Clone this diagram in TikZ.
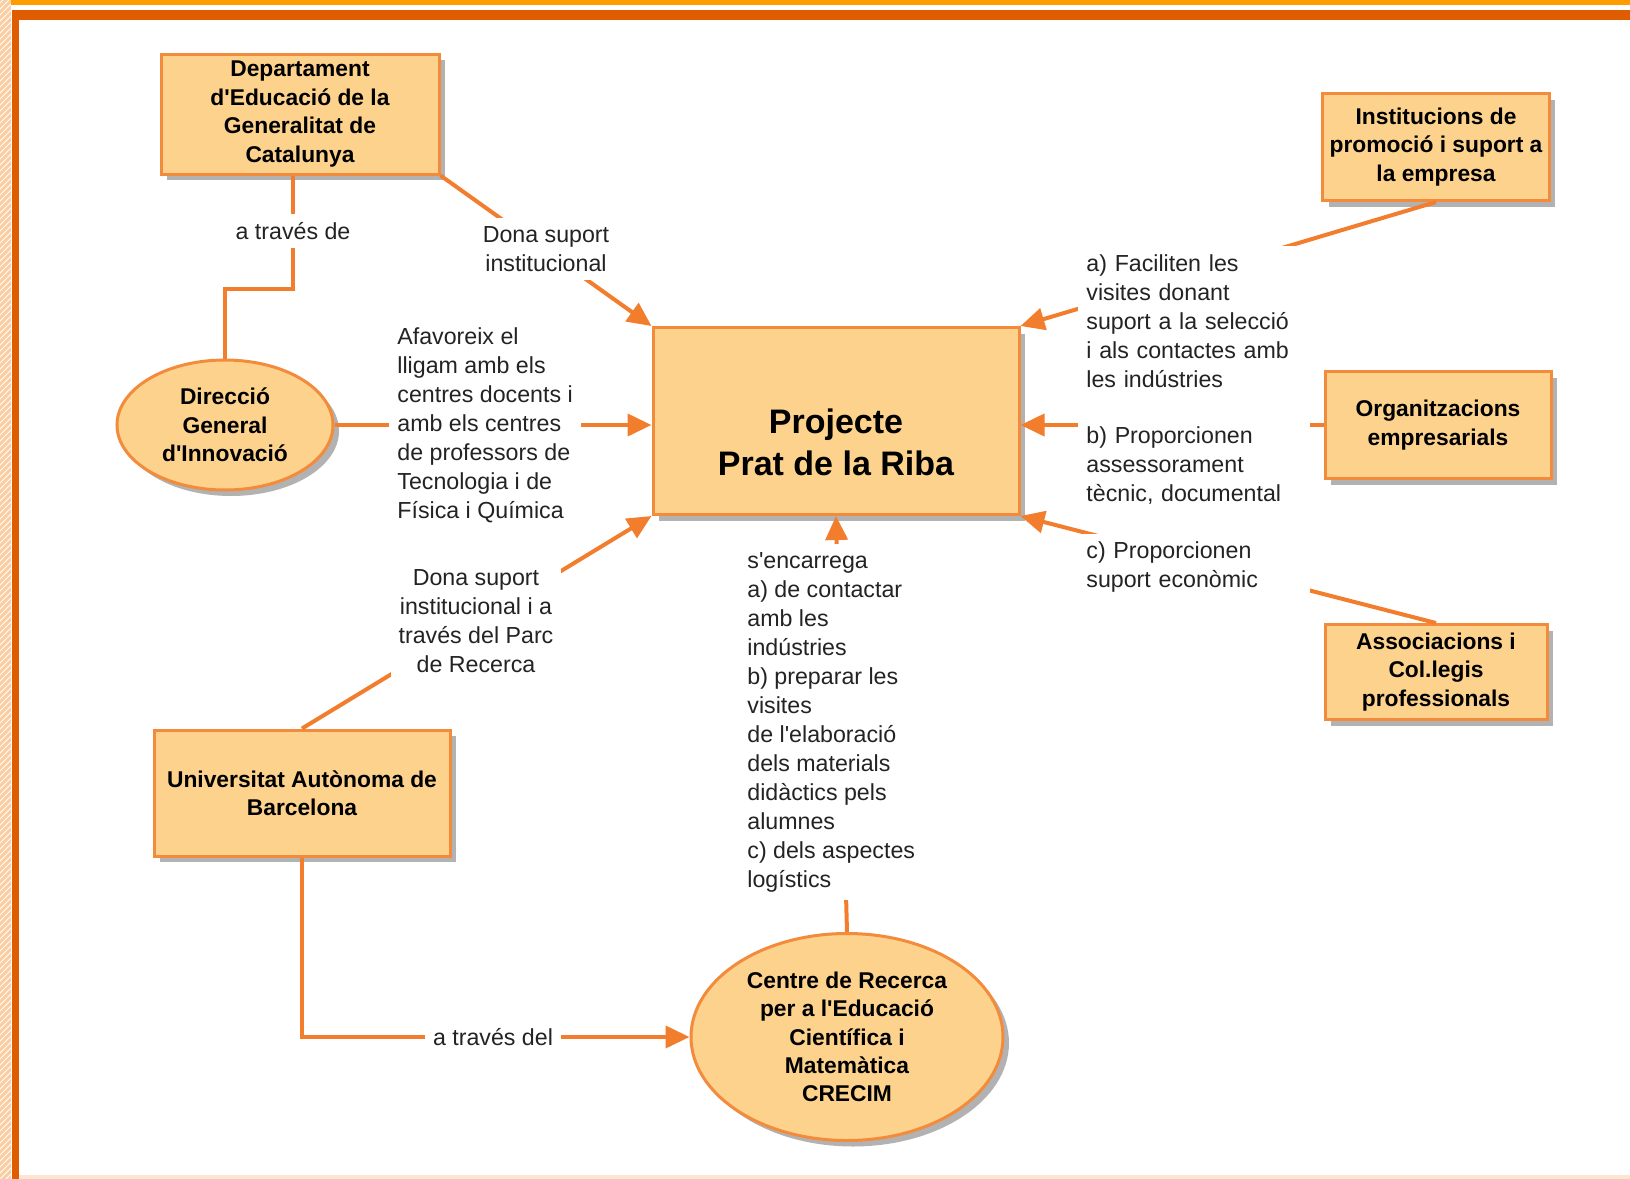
\documentclass[tikz,border=0pt]{standalone}
\usepackage{fontspec}
\setmainfont{Liberation Sans}
\usetikzlibrary{arrows.meta,shapes.geometric,shadows,patterns}
\definecolor{boxfill}{RGB}{252,210,140}
\definecolor{boxline}{RGB}{242,140,60}
\definecolor{linkcol}{RGB}{242,125,45}
\definecolor{framedark}{RGB}{224,92,0}
\definecolor{framelight}{RGB}{255,156,0}
\definecolor{strip}{RGB}{251,205,160}
\definecolor{txtgrey}{RGB}{35,35,35}
\newcommand{\ap}{\textquotesingle}
\begin{document}
\begin{tikzpicture}[x=0.5pt,y=-0.5pt,
	concept/.style={draw=boxline,line width=1.5pt,fill=boxfill,align=center,
		font=\fontsize{11.4}{14.2}\selectfont\bfseries,
		drop shadow={shadow xshift=3pt,shadow yshift=-3pt,fill=black,opacity=0.3}},
	oval/.style={concept,ellipse,inner sep=0pt},
	link/.style={draw=linkcol,line width=2pt},
	arr/.style={link,-{Triangle[length=12pt,width=11pt]}},
	lbl/.style={fill=white,inner sep=4pt,text=txtgrey,font=\fontsize{11.6}{14.5}\selectfont}]
		\useasboundingbox (0,0) rectangle (1630,1179);
		% frame
		\fill[strip] (0,0) rectangle (11,1179);
		\fill[pattern=north east lines,pattern color=white] (0,0) rectangle (11,1179);
		\fill[framelight] (11,0) rectangle (1630,4.5);
		\fill[framedark] (12,10) rectangle (1630,20);
		\fill[framedark] (12,10) rectangle (19,1179);
		\fill[strip!50] (19,1175) rectangle (1630,1179);
		% concepts
		\node[concept,minimum width=139pt,minimum height=60pt] (dept) at (300,114)
			{Departament\\d\ap Educació de la\\Generalitat de\\Catalunya};
		\node[oval,minimum width=108pt,minimum height=65pt] (dirn) at (225,425)
			{Direcció\\General\\d\ap Innovació};
		\node[concept,minimum width=183pt,minimum height=93.5pt,
			font=\fontsize{17}{21}\selectfont\bfseries] (proj) at (836,421)
			{\mbox{}\\[13pt]Projecte\\Prat de la Riba};
		\node[concept,minimum width=113pt,minimum height=53.5pt] (inst) at (1436,147)
			{Institucions de\\promoció i suport a\\la empresa};
		\node[concept,minimum width=113pt,minimum height=53.5pt] (org) at (1438,425)
			{Organitzacions\\empresarials};
		\node[concept,minimum width=111pt,minimum height=47.5pt] (assoc) at (1436,672)
			{Associacions i\\Col.legis\\professionals};
		\node[concept,minimum width=148pt,minimum height=63pt] (univ) at (302,793)
			{Universitat Autònoma de\\Barcelona};
		\node[oval,minimum width=156pt,minimum height=103.5pt] (crecim) at (847,1037)
			{Centre de Recerca\\per a l\ap Educació\\Científica i\\Matemàtica\\CRECIM};
		% links
		\draw[link] ([xshift=-3.5pt]dept.south) -- ++(0,113) -| (dirn.north);
		\draw[arr] (dept.south east) -- (proj.north west);
		\draw[arr] (dirn.east) -- (dirn.east -| proj.west);
		\draw[arr] (univ.north) -- (proj.south west);
		\draw[arr] (univ.south) |- (crecim.west);
		\draw[arr] (crecim.north) -- (proj.south);
		\draw[arr] (inst.south) -- (proj.north east);
		\draw[arr] (org.west) -- (org.west -| proj.east);
		\draw[arr] (assoc.north) -- (proj.south east);
		% link labels
		\node[lbl] (viaDG) at (293,231) {a través de};
		\node[lbl,align=center] (suportDept) at (546,249) {Dona suport\\institucional};
		\node[lbl,align=left,anchor=west] (lligam) at (389,425)
			{Afavoreix el\\lligam amb els\\centres docents i\\amb els centres\\de professors de\\Tecnologia i de\\Física i Química};
		\node[lbl,align=center] (suportUAB) at (476,621)
			{Dona suport\\institucional i a\\través del Parc\\de Recerca};
		\node[lbl] (viaCR) at (493,1037) {a través del};
		\node[lbl,align=left,anchor=west] (encarrega) at (739,722)
			{s\ap encarrega\\a) de contactar\\amb les\\indústries\\b) preparar les\\visites\\de l\ap elaboració\\dels materials\\didàctics pels\\alumnes\\c) dels aspectes\\logístics};
		\node[lbl,align=left,anchor=west,text width=108pt] (facil) at (1078,321)
			{a) Faciliten les\\visites donant\\suport a la selecció\\i als contactes amb\\les indústries};
		\node[lbl,align=left,anchor=west,text width=108pt] (assess) at (1078,466)
			{b) Proporcionen\\assessorament\\tècnic, documental};
		\node[lbl,align=left,anchor=west,text width=108pt] (econ) at (1078,567)
			{c) Proporcionen\\suport econòmic};
\end{tikzpicture}
\end{document}
